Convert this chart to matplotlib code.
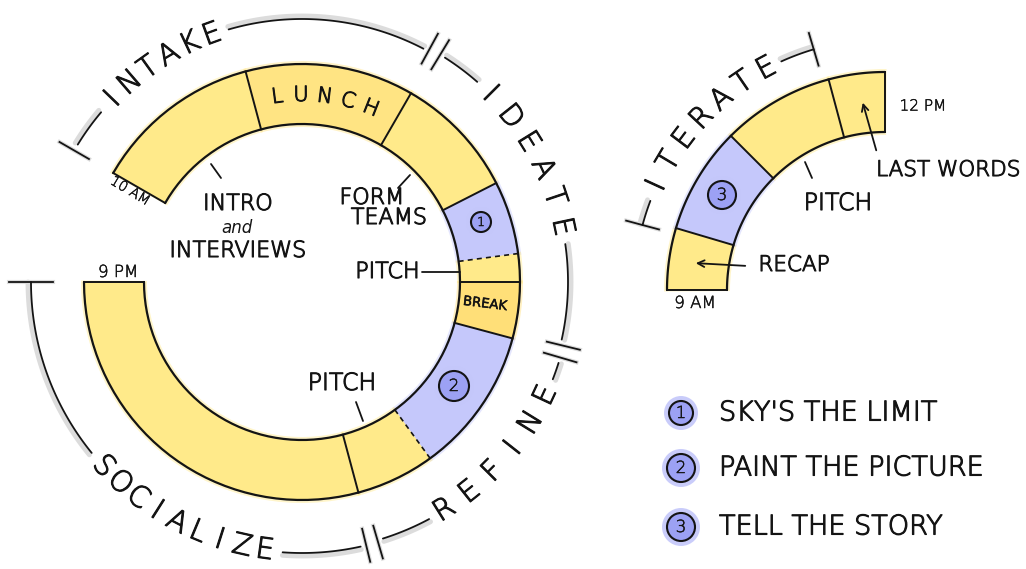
import numpy as np
import matplotlib
matplotlib.use("Agg")
import matplotlib.pyplot as plt
import matplotlib.patheffects as pe
from matplotlib.patches import Wedge, Circle

plt.rcParams['font.family'] = ['DejaVu Sans']
plt.rcParams['font.weight'] = 'light'

W, H = 1026, 569

# ---------------- data ----------------
# Day 1 ring (10 AM -> 9 PM), segment boundaries in hours
day1_bounds = [10, 11.5, 13, 14.1, 14.75, 15, 15.5, 16.8, 17.5, 21]
day1_kinds = ['yellow', 'lunch', 'yellow', 'blue', 'yellow', 'break', 'blue', 'yellow', 'yellow']
day1_dashed = [False, False, False, False, True, False, False, True, False, False]
day1_phases = ['INTAKE', 'IDEATE', 'REFINE', 'SOCIALIZE']
day1_phase_bounds = [10, 13, 15.5, 17.5, 21]

# Day 2 arc (9 AM -> 12 PM)
day2_bounds = [9, 9.55, 10.5, 11.5, 12]
day2_kinds = ['yellow', 'blue', 'yellow', 'yellow']
day2_phases = ['ITERATE']
day2_phase_bounds = [9.5, 11.45]

# Legend
legend_nums = ['1', '2', '3']
legend_labels = ["SKY'S THE LIMIT", "PAINT THE PICTURE", "TELL THE STORY"]

# ---------------- style ----------------
COL = {'yellow': '#FFEA8A', 'lunch': '#FFE483', 'break': '#FFDF78', 'blue': '#C5C8FB'}
BADGE = '#9CA1F4'
HALO = '#C4C7FA'
INK = '#141414'
THICK = [pe.withStroke(linewidth=0.8, foreground=INK)]
THIN = [pe.withStroke(linewidth=0.35, foreground=INK)]

R_OUT, RW = 218, 60
C1 = (302, H - 282)
C2 = (885, H - 290)
DEG_PER_H = 30.0


def ang1(t):
    return 150 - DEG_PER_H * (t - 10)


def ang2(t):
    return 180 - DEG_PER_H * (t - 9)


def P(x, yimg):
    return (x, H - yimg)


def pol(c, r, a):
    a = np.radians(a)
    return c[0] + r * np.cos(a), c[1] + r * np.sin(a)


fig = plt.figure(figsize=(W / 100, H / 100), dpi=100)
ax = fig.add_axes([0, 0, 1, 1])
ax.set_xlim(0, W)
ax.set_ylim(0, H)
ax.set_aspect('equal')
ax.axis('off')


def arc(c, r, a0, a1, **kw):
    th = np.radians(np.linspace(a0, a1, 120))
    ax.plot(c[0] + r * np.cos(th), c[1] + r * np.sin(th), **kw)


def radial(c, r0, r1, a, **kw):
    x0, y0 = pol(c, r0, a)
    x1, y1 = pol(c, r1, a)
    ax.plot([x0, x1], [y0, y1], **kw)


def draw_ring(c, bounds, kinds, dashed, angf):
    angs = [angf(t) for t in bounds]
    for i, k in enumerate(kinds):
        a_hi, a_lo = angs[i], angs[i + 1]
        # soft marker spill
        ax.add_patch(Wedge(c, R_OUT + 3, a_lo - 0.4, a_hi + 0.4, width=RW + 6,
                           facecolor=COL[k], edgecolor='none', alpha=0.45, zorder=1))
        ax.add_patch(Wedge(c, R_OUT, a_lo, a_hi, width=RW,
                           facecolor=COL[k], edgecolor='none', zorder=2))
    arc(c, R_OUT, angs[0], angs[-1], color=INK, lw=1.6, zorder=4, solid_capstyle='round')
    arc(c, R_OUT - RW, angs[0], angs[-1], color=INK, lw=1.6, zorder=4, solid_capstyle='round')
    for a, d in zip(angs, dashed):
        radial(c, R_OUT - RW, R_OUT, a, color=INK, lw=1.4 if not d else 1.2,
               ls=(0, (3, 2.5)) if d else '-', zorder=4)


draw_ring(C1, day1_bounds, day1_kinds, day1_dashed, ang1)
draw_ring(C2, day2_bounds, day2_kinds, [False] * len(day2_bounds), ang2)


# ---------------- phase brackets ----------------
def curved_text(c, r, a_mid, step, text, size, outward=True):
    n = len(text)
    a0 = a_mid + step * (n - 1) / 2 if outward else a_mid - step * (n - 1) / 2
    for i, ch in enumerate(text):
        a = a0 - step * i if outward else a0 + step * i
        x, y = pol(c, r, a)
        rot = a - 90 if outward else a + 90
        ax.text(x, y, ch, rotation=rot, ha='center', va='center',
                rotation_mode='anchor', fontsize=size, color=INK, zorder=5,
                path_effects=THICK)


def bracket_line(c, r, a0, a1):
    arc(c, r + 3, a0, a1, color='#dcdcdc', lw=3.5, zorder=3, solid_capstyle='round')
    arc(c, r, a0, a1, color=INK, lw=1.3, zorder=4, solid_capstyle='round')


def tick(c, r, a, double=False, half_len=17):
    offs = [-1.3, 1.3] if double else [0]
    for o in offs:
        radial(c, r - half_len, r + half_len, a + o, color='#dcdcdc', lw=3.0, zorder=3)
        radial(c, r - half_len, r + half_len, a + o, color=INK, lw=1.3, zorder=4)


# layout of the phase labels: (radius, mid angle, step, outward, fontsize)
phase_layout1 = [(263, 123, 5.2, True, 21), (266, 28.5, 6.6, True, 21),
                 (269, -41.5, 6.6, False, 21), (271, -117.5, 4.9, False, 21)]

pb = [ang1(t) for t in day1_phase_bounds]
for i, name in enumerate(day1_phases):
    r, am, st, out, fs = phase_layout1[i]
    curved_text(C1, r, am, st, name, fs, out)
    half = st * (len(name) - 1) / 2 + 3.8
    hi, lo = pb[i], pb[i + 1]
    g_hi = 1.5 if i == 0 else 2.5
    g_lo = 2.5
    bracket_line(C1, r, hi - g_hi, am + half)
    bracket_line(C1, r, am - half, lo + (0 if i == len(day1_phases) - 1 else g_lo))
    tick(C1, r, hi, double=(i != 0))
tick(C1, phase_layout1[-1][0], pb[-1], half_len=22)

pb2 = [ang2(t) for t in day2_phase_bounds]
r, am, st = 251, 136.8, 6.2
curved_text(C2, r, am, st, day2_phases[0], 21, True)
half = st * (len(day2_phases[0]) - 1) / 2 + 3.8
bracket_line(C2, r, pb2[0], am + half)
bracket_line(C2, r, am - half, pb2[1])
tick(C2, r, pb2[0])
tick(C2, r, pb2[1])

# curved LUNCH
curved_text(C1, 187, 83, 7.3, 'LUNCH', 15, True)


# ---------------- badges ----------------
def badge(xy, rad, num, fs):
    ax.add_patch(Circle(xy, rad + 5, facecolor=HALO, edgecolor='none', alpha=0.9, zorder=5))
    ax.add_patch(Circle(xy, rad, facecolor=BADGE, edgecolor=INK, lw=1.5, zorder=6))
    ax.text(xy[0], xy[1], num, ha='center', va='center', fontsize=fs, color=INK, zorder=7,
            path_effects=THIN)


badge(P(481, 222), 10, legend_nums[0], 9)
badge(P(454, 386), 15, legend_nums[1], 12)
badge(P(722, 195), 14, legend_nums[2], 12)

# ---------------- annotations ----------------
def label(x, yimg, s, fs=12, **kw):
    ax.text(x, H - yimg, s, ha=kw.pop('ha', 'center'), va='center', fontsize=fs,
            color=INK, zorder=6, path_effects=kw.pop('path_effects', THICK), **kw)


def seg(x0, y0, x1, y1, lw=1.3):
    ax.plot([x0, x1], [H - y0, H - y1], color=INK, lw=lw, zorder=6, solid_capstyle='round')


label(130, 191, '10 AM', 10, rotation=-31, path_effects=THIN)
label(118, 272, '9 PM', 12, path_effects=THIN)
label(238, 204, 'INTRO', 16)
label(237, 228, 'and', 12, style='italic', path_effects=[])
label(238, 251, 'INTERVIEWS', 16)
seg(211, 164, 221, 178)
label(372, 198, 'FORM', 16)
label(389, 218, 'TEAMS', 16)
seg(398, 188, 410, 175)
label(420, 272, 'PITCH', 16, ha='right')
seg(422, 272, 460, 272)
label(485, 304, 'BREAK', 9.5, rotation=-7, fontweight='normal', path_effects=THIN)
label(342, 383, 'PITCH', 17)
seg(356, 402, 363, 421)

label(695, 303, '9 AM', 12, path_effects=THIN)
label(923, 106, '12 PM', 11, path_effects=THIN)
label(794, 265, 'RECAP', 15.5)
ax.annotate('', xy=P(693, 263), xytext=P(748, 266),
            arrowprops=dict(arrowstyle='->', lw=1.3, color=INK, mutation_scale=12), zorder=6)
label(838, 203, 'PITCH', 17)
seg(805, 162, 812, 178)
label(948, 170, 'LAST WORDS', 15.5)
ax.annotate('', xy=P(862, 100), xytext=P(877, 153),
            arrowprops=dict(arrowstyle='->', lw=1.3, color=INK, mutation_scale=12), zorder=6)

# ---------------- legend ----------------
leg_y = [413, 468, 527]
leg_r = [12, 14, 14]
for num, txt, y, rr in zip(legend_nums, legend_labels, leg_y, leg_r):
    badge(P(681, y), rr, num, 12)
    label(719, y, txt, 19.5, ha='left')

fig.savefig('out.png', dpi=100, facecolor='white')
